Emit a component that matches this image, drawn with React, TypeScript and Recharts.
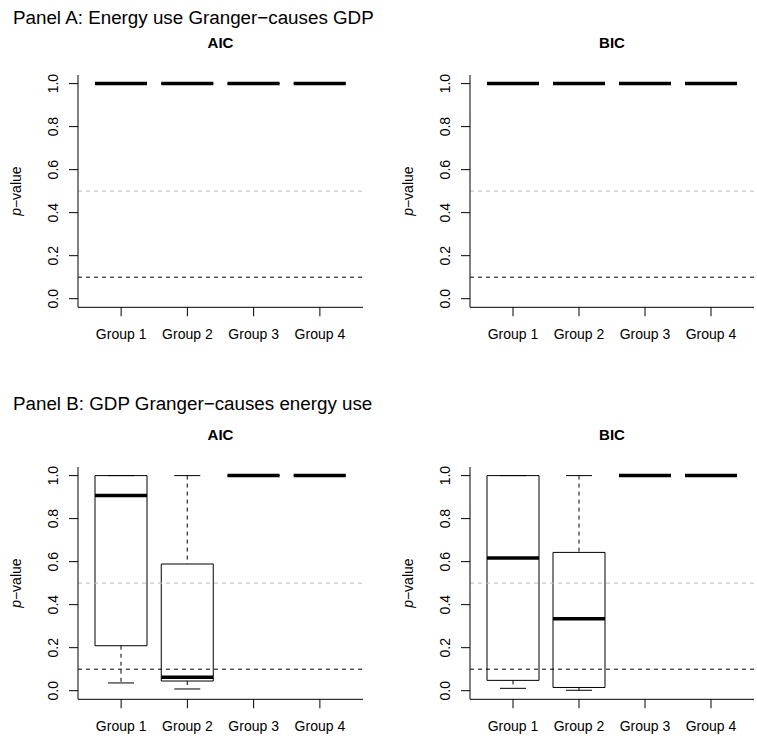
import React from "react";
import { ComposedChart, Bar, XAxis, YAxis, ReferenceLine } from "recharts";

const groups = ["Group 1", "Group 2", "Group 3", "Group 4"];
const yTicks = [0, 0.2, 0.4, 0.6, 0.8, 1.0];

// Panel A: every p-value sits at 1, for AIC and BIC alike
const aAicMin = [1, 1, 1, 1];
const aAicQ1 = [1, 1, 1, 1];
const aAicMed = [1, 1, 1, 1];
const aAicQ3 = [1, 1, 1, 1];
const aAicMax = [1, 1, 1, 1];

const aBicMin = [1, 1, 1, 1];
const aBicQ1 = [1, 1, 1, 1];
const aBicMed = [1, 1, 1, 1];
const aBicQ3 = [1, 1, 1, 1];
const aBicMax = [1, 1, 1, 1];

// Panel B
const bAicMin = [0.036, 0.008, 1, 1];
const bAicQ1 = [0.209, 0.045, 1, 1];
const bAicMed = [0.907, 0.062, 1, 1];
const bAicQ3 = [1, 0.589, 1, 1];
const bAicMax = [1, 1, 1, 1];

const bBicMin = [0.011, 0.002, 1, 1];
const bBicQ1 = [0.048, 0.015, 1, 1];
const bBicMed = [0.617, 0.335, 1, 1];
const bBicQ3 = [1, 0.643, 1, 1];
const bBicMax = [1, 1, 1, 1];

const FONT = "'Liberation Sans', Arial, Helvetica, sans-serif";

function toRows(min: number[], q1: number[], med: number[], q3: number[], max: number[]) {
  return groups.map((name, i) => ({
    name,
    lower: [min[i], q1[i]],
    box: [q1[i], q3[i]],
    upper: [q3[i], max[i]],
    median: [med[i], med[i]],
  }));
}

function span(p: any) {
  const y = Number(p.y) || 0;
  const h = Number(p.height) || 0;
  return { top: Math.min(y, y + h), bottom: Math.max(y, y + h) };
}

const LowerWhisker = (p: any) => {
  const { top, bottom } = span(p);
  const cx = p.x + p.width / 2;
  return (
    <g>
      <line x1={cx} x2={cx} y1={top} y2={bottom} stroke="#000" strokeDasharray="4 4" />
      <line x1={cx - p.width / 4} x2={cx + p.width / 4} y1={bottom} y2={bottom} stroke="#000" />
    </g>
  );
};

const UpperWhisker = (p: any) => {
  const { top, bottom } = span(p);
  const cx = p.x + p.width / 2;
  return (
    <g>
      <line x1={cx} x2={cx} y1={top} y2={bottom} stroke="#000" strokeDasharray="4 4" />
      <line x1={cx - p.width / 4} x2={cx + p.width / 4} y1={top} y2={top} stroke="#000" />
    </g>
  );
};

const BoxShape = (p: any) => {
  const { top, bottom } = span(p);
  const d = `M${p.x},${top}H${p.x + p.width}V${bottom}H${p.x}Z`;
  return <path d={d} fill="none" stroke="#000" />;
};

const MedianShape = (p: any) => {
  const { top } = span(p);
  return <line x1={p.x} x2={p.x + p.width} y1={top} y2={top} stroke="#000" strokeWidth={3.5} />;
};

const GroupTick = ({ x, y, payload }: any) => (
  <text x={x} y={y + 22.7} textAnchor="middle" fontSize={14} fontFamily={FONT} fill="#000">
    {payload.value}
  </text>
);

const ValueTick = ({ x, y, payload }: any) => (
  <text
    transform={`translate(${x - 11},${y}) rotate(-90)`}
    textAnchor="middle"
    fontSize={14}
    fontFamily={FONT}
    fill="#000"
  >
    {Number(payload.value).toFixed(1)}
  </text>
);

const PLabel = ({ viewBox }: any) => {
  if (!viewBox) return null;
  const cy = viewBox.y + viewBox.height / 2;
  return (
    <text
      transform={`translate(${viewBox.x - 12.5},${cy}) rotate(-90)`}
      textAnchor="middle"
      fontSize={14}
      fontFamily={FONT}
      fill="#000"
    >
      <tspan fontStyle="italic">p</tspan>−value
    </text>
  );
};

type PanelProps = {
  rows: ReturnType<typeof toRows>;
  left: number;
  top: number;
  right: number;
};

function BoxPanel({ rows, left, top, right }: PanelProps) {
  return (
    <div style={{ position: "absolute", left, top }}>
      <ComposedChart
        width={372}
        height={345}
        data={rows}
        margin={{ top: 75, right, bottom: 7.7, left: 33 }}
        barSize={52}
        barGap={-52}
      >
        <XAxis
          dataKey="name"
          type="category"
          interval={0}
          padding={{ left: 10, right: 10 }}
          height={30}
          tickSize={9}
          tickMargin={0}
          tickLine={{ stroke: "#000" }}
          axisLine={{ stroke: "#000" }}
          tick={<GroupTick />}
        />
        <XAxis
          xAxisId="frame"
          orientation="top"
          type="number"
          domain={[0, 1]}
          allowDataOverflow
          height={0}
          tick={false}
          tickLine={false}
          axisLine={{ stroke: "#000" }}
        />
        <YAxis
          type="number"
          domain={[-0.04, 1.04]}
          allowDataOverflow
          ticks={yTicks}
          interval={0}
          width={45}
          tickSize={9}
          tickMargin={0}
          tickLine={{ stroke: "#000" }}
          axisLine={{ stroke: "#000" }}
          tick={<ValueTick />}
          label={<PLabel />}
        />
        <YAxis
          yAxisId="frame"
          orientation="right"
          type="number"
          domain={[0, 1]}
          allowDataOverflow
          width={0}
          tick={false}
          tickLine={false}
          axisLine={{ stroke: "#000" }}
        />
        <ReferenceLine xAxisId="frame" y={0.5} stroke="#bebebe" strokeDasharray="4 4" />
        <ReferenceLine xAxisId="frame" y={0.1} stroke="#000" strokeDasharray="4 4" />
        <Bar dataKey="lower" shape={<LowerWhisker />} isAnimationActive={false} />
        <Bar dataKey="upper" shape={<UpperWhisker />} isAnimationActive={false} />
        <Bar dataKey="box" shape={<BoxShape />} isAnimationActive={false} />
        <Bar dataKey="median" shape={<MedianShape />} isAnimationActive={false} />
      </ComposedChart>
    </div>
  );
}

export default function App() {
  const aAic = toRows(aAicMin, aAicQ1, aAicMed, aAicQ3, aAicMax);
  const aBic = toRows(aBicMin, aBicQ1, aBicMed, aBicQ3, aBicMax);
  const bAic = toRows(bAicMin, bAicQ1, bAicMed, bAicQ3, bAicMax);
  const bBic = toRows(bBicMin, bBicQ1, bBicMed, bBicQ3, bBicMax);

  return (
    <div
      style={{
        position: "absolute",
        left: 0,
        top: 0,
        width: 757,
        height: 740,
        overflow: "hidden",
        background: "#fff",
      }}
    >
      <BoxPanel rows={aAic} left={0} top={0} right={9} />
      <BoxPanel rows={aBic} left={392} top={0} right={10} />
      <BoxPanel rows={bAic} left={0} top={392} right={9} />
      <BoxPanel rows={bBic} left={392} top={392} right={10} />

      <svg
        width={757}
        height={740}
        style={{ position: "absolute", left: 0, top: 0, pointerEvents: "none" }}
      >
        <g fontFamily={FONT} fill="#000">
          <text x={13} y={24} fontSize={18.8}>
            Panel A: Energy use Granger−causes GDP
          </text>
          <text x={220.5} y={48.3} fontSize={15} fontWeight="bold" textAnchor="middle">
            AIC
          </text>
          <text x={612} y={48.3} fontSize={15} fontWeight="bold" textAnchor="middle">
            BIC
          </text>
          <text x={13} y={410} fontSize={18.8}>
            Panel B: GDP Granger−causes energy use
          </text>
          <text x={220.5} y={440} fontSize={15} fontWeight="bold" textAnchor="middle">
            AIC
          </text>
          <text x={612} y={440} fontSize={15} fontWeight="bold" textAnchor="middle">
            BIC
          </text>
        </g>
      </svg>
    </div>
  );
}
